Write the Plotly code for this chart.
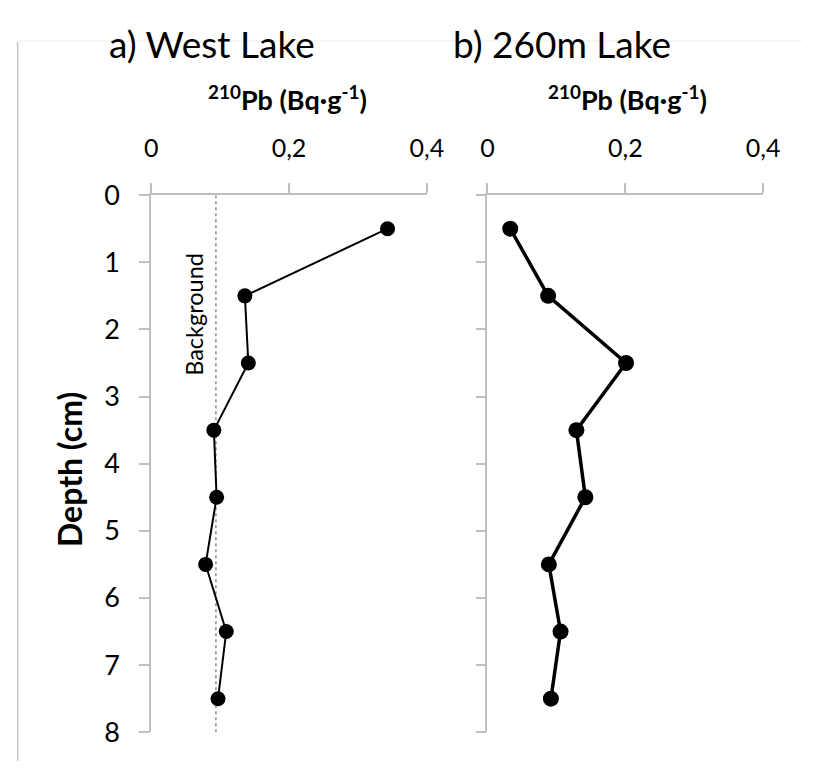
import plotly.graph_objects as go

# ---- data ----
depth_cm = [0.5, 1.5, 2.5, 3.5, 4.5, 5.5, 6.5, 7.5]
west_lake_pb210 = [0.343, 0.136, 0.141, 0.091, 0.095, 0.079, 0.109, 0.097]
lake260_pb210 = [0.033, 0.088, 0.201, 0.129, 0.142, 0.089, 0.106, 0.092]
background_pb210 = 0.094
x_tickvals = [0, 0.2, 0.4]
x_ticktext = ["0", "0,2", "0,4"]
y_tickvals = [0, 1, 2, 3, 4, 5, 6, 7, 8]

W, H = 819, 776
FONT = "Lato"
AX = "#bfbfbf"

def px_x(p):
    return p / W

def px_y(p):
    return 1 - p / H

fig = go.Figure()

fig.add_trace(go.Scatter(
    x=[background_pb210, background_pb210], y=[0, 8],
    mode="lines", line=dict(color="#8a8a8a", width=1.5, dash="3px,3px"),
    xaxis="x", yaxis="y", showlegend=False, hoverinfo="skip"))

fig.add_trace(go.Scatter(
    x=west_lake_pb210, y=depth_cm, mode="lines+markers",
    line=dict(color="black", width=2),
    marker=dict(color="black", size=15),
    xaxis="x", yaxis="y", showlegend=False))

fig.add_trace(go.Scatter(
    x=lake260_pb210, y=depth_cm, mode="lines+markers",
    line=dict(color="black", width=3.5),
    marker=dict(color="black", size=16),
    xaxis="x2", yaxis="y2", showlegend=False))

ydom = [px_y(746), px_y(185)]

xcommon = dict(range=[0, 0.4], side="top", tickvals=x_tickvals, ticktext=x_ticktext,
               showline=True, linecolor=AX, linewidth=1.5, ticks="outside", ticklen=10,
               tickcolor=AX, tickwidth=1.5, showgrid=False, zeroline=False,
               tickfont=dict(family=FONT, size=25, color="black"), ticklabelstandoff=16,
               fixedrange=True)
ycommon = dict(range=[8, 0], domain=ydom, tickvals=y_tickvals,
               showline=True, linecolor=AX, linewidth=1.5, ticks="outside", ticklen=10,
               tickcolor=AX, tickwidth=1.5, showgrid=False, zeroline=False,
               tickfont=dict(family=FONT, size=27, color="black"), ticklabelstandoff=14,
               fixedrange=True)

fig.update_layout(
    width=W, height=H,
    margin=dict(l=0, r=0, t=0, b=0),
    paper_bgcolor="white", plot_bgcolor="white",
    font=dict(family=FONT, color="black"),
    xaxis=dict(domain=[px_x(148.5), px_x(432.5)], anchor="y", **xcommon),
    yaxis=dict(anchor="x", **ycommon),
    xaxis2=dict(domain=[px_x(495), px_x(779)], anchor="y2", **xcommon),
    yaxis2=dict(anchor="x2", showticklabels=False, **ycommon),
)

ann = []
ann.append(dict(text="a) West Lake", xref="paper", yref="paper", x=px_x(103), y=px_y(27),
                xanchor="left", yanchor="middle", showarrow=False,
                font=dict(family=FONT, size=37, color="black")))
ann.append(dict(text="b) 260m Lake", xref="paper", yref="paper", x=px_x(457), y=px_y(27),
                xanchor="left", yanchor="middle", showarrow=False,
                font=dict(family=FONT, size=37, color="black")))
axis_title = "<b><sup>210</sup>Pb (Bq·g<sup>-1</sup>)</b>"
for cx in (289, 639):
    ann.append(dict(text=axis_title, xref="paper", yref="paper", x=px_x(cx), y=px_y(84),
                    xanchor="center", yanchor="middle", showarrow=False,
                    font=dict(family=FONT, size=27, color="black")))
ann.append(dict(text="<b>Depth (cm)</b>", xref="paper", yref="paper", x=px_x(65), y=px_y(472),
                xanchor="center", yanchor="middle", showarrow=False, textangle=-90,
                font=dict(family=FONT, size=32, color="black")))
ann.append(dict(text="Background", xref="x", yref="y", x=0.062, y=1.77,
                xanchor="center", yanchor="middle", showarrow=False, textangle=-90,
                font=dict(family=FONT, size=23.5, color="black")))
fig.update_layout(annotations=ann)

fig.update_layout(shapes=[
    dict(type="line", xref="paper", yref="paper", x0=px_x(11), x1=px_x(11), y0=px_y(25), y1=0,
         line=dict(color="#c4c4c4", width=1.5)),
    dict(type="line", xref="paper", yref="paper", x0=px_x(11), x1=1, y0=px_y(24), y1=px_y(24),
         line=dict(color="#efefef", width=1), layer="below"),
])

fig.write_html("out.html")
